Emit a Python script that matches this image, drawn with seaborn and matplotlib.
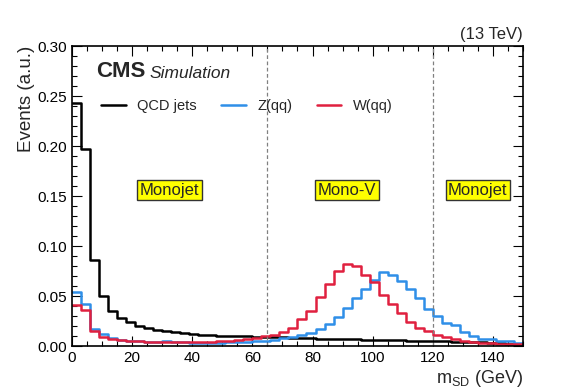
import seaborn as sns
import matplotlib.pyplot as plt
import numpy as np
import pandas as pd
from matplotlib.ticker import MultipleLocator

# bin edges: 0-150 GeV, 3 GeV bins
binEdges = list(range(0, 151, 3))
binCenters = [e + 1.5 for e in binEdges[:-1]]

qcdVals = [0.243, 0.197, 0.086, 0.050, 0.035, 0.028, 0.024, 0.0205, 0.018, 0.016,
           0.015, 0.014, 0.013, 0.012, 0.0115, 0.011, 0.0105, 0.0102, 0.0099, 0.0097,
           0.0095, 0.0093, 0.0090, 0.0087, 0.0084, 0.0081, 0.0078, 0.0075, 0.0072, 0.0070,
           0.0068, 0.0066, 0.0064, 0.0062, 0.0060, 0.0058, 0.0056, 0.0054, 0.0052, 0.0050,
           0.0048, 0.0046, 0.0044, 0.0042, 0.0040, 0.0036, 0.0032, 0.0028, 0.0024, 0.0020]
zqqVals = [0.054, 0.042, 0.0175, 0.0116, 0.0076, 0.006, 0.005, 0.005, 0.004, 0.004,
           0.005, 0.004, 0.004, 0.003, 0.003, 0.003, 0.003, 0.004, 0.004, 0.004,
           0.005, 0.005, 0.006, 0.008, 0.0095, 0.011, 0.0126, 0.017, 0.022, 0.029,
           0.038, 0.048, 0.057, 0.066, 0.0737, 0.0714, 0.065, 0.057, 0.048, 0.037,
           0.030, 0.023, 0.021, 0.014, 0.010, 0.0073, 0.0073, 0.0047, 0.0047, 0.003]
wqqVals = [0.041, 0.036, 0.015, 0.009, 0.007, 0.006, 0.005, 0.005, 0.004, 0.004,
           0.004, 0.004, 0.004, 0.004, 0.004, 0.004, 0.005, 0.005, 0.006, 0.007,
           0.008, 0.010, 0.011, 0.0136, 0.018, 0.027, 0.035, 0.049, 0.062, 0.075,
           0.082, 0.080, 0.071, 0.064, 0.051, 0.042, 0.033, 0.024, 0.0185, 0.015,
           0.011, 0.009, 0.0066, 0.005, 0.0037, 0.003, 0.003, 0.002, 0.002, 0.002]

sampleNames = ["QCD jets", "Z(qq)", "W(qq)"]
sampleColors = ["black", "#2f8fe8", "#e0203f"]

regionCuts = [65, 120]
regionLabels = ["Monojet", "Mono-V", "Monojet"]
regionLabelX = [32.5, 91.5, 135]

sns.set_style("ticks")
plt.rcParams['font.family'] = ['Liberation Sans', 'DejaVu Sans']

fig = plt.figure(figsize=(5.81, 3.88), dpi=100)
ax = fig.add_axes([0.124, 0.108, 0.776, 0.773])

for name, vals, col in zip(sampleNames, [qcdVals, zqqVals, wqqVals], sampleColors):
    df = pd.DataFrame({"msd": binCenters, "w": vals})
    sns.histplot(data=df, x="msd", weights="w", bins=binEdges, element="step", fill=False,
                 color=col, linewidth=1.8, label=name, ax=ax)

for cut in regionCuts:
    ax.axvline(cut, color="gray", linestyle=(0, (3, 2)), linewidth=0.9)

for lab, xpos in zip(regionLabels, regionLabelX):
    ax.text(xpos, 0.156, lab, fontsize=12, ha="center", va="center",
            bbox=dict(boxstyle="square,pad=0.15", facecolor="yellow", edgecolor="#333333", linewidth=1))

ax.set_xlim(0, 150)
ax.set_ylim(0, 0.30)
ax.xaxis.set_major_locator(MultipleLocator(20))
ax.xaxis.set_minor_locator(MultipleLocator(5))
ax.yaxis.set_major_locator(MultipleLocator(0.05))
ax.yaxis.set_minor_locator(MultipleLocator(0.01))
ax.yaxis.set_major_formatter(plt.FormatStrFormatter("%.2f"))
ax.tick_params(which="both", direction="in", top=True, right=True, labelsize=11, colors="black")
ax.tick_params(which="major", length=7, width=0.8)
ax.tick_params(which="minor", length=3.5, width=0.8)
for sp in ax.spines.values():
    sp.set_linewidth(1.2)
    sp.set_color("black")

ax.set_xlabel("m$_{\\mathregular{SD}}$ (GeV)", fontsize=13, loc="right", labelpad=2)
ax.set_ylabel("Events (a.u.)", fontsize=13.5, loc="top", labelpad=2)

ax.text(0.053, 0.915, "CMS", transform=ax.transAxes, fontsize=16, fontweight="bold", va="center")
ax.text(0.171, 0.91, "Simulation", transform=ax.transAxes, fontsize=12.5, style="italic", va="center")
ax.text(1.0, 1.015, "(13 TeV)", transform=ax.transAxes, fontsize=12, ha="right", va="bottom")

ax.legend(loc="center left", bbox_to_anchor=(0.035, 0.80), ncol=3, frameon=False, fontsize=10.5,
          handlelength=1.7, handletextpad=0.8, columnspacing=1.65)

fig.savefig("out.png", dpi=100)
